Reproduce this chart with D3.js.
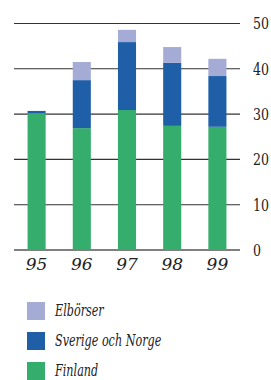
<!DOCTYPE html>
<html>
<head>
<meta charset="utf-8">
<script src="https://cdn.jsdelivr.net/npm/d3@7/dist/d3.min.js"></script>
<style>
  html, body { margin: 0; padding: 0; background: #fff; }
  svg { display: block; }
  text { font-family: "DejaVu Serif", serif; fill: #222; }
  .tick-label { font-size: 17px; }
  .year-label { font-style: italic; font-size: 17px; }
  .legend-label { font-style: italic; font-size: 16px; }
</style>
</head>
<body>
<svg id="chart"></svg>
<script>
// data
const years = ["95", "96", "97", "98", "99"];
const finland = [30.2, 26.9, 30.9, 27.4, 27.2];
const sverigeNorge = [0.5, 10.6, 15.0, 13.9, 11.2];
const elborser = [0.0, 4.0, 2.7, 3.5, 3.8];
const yTicks = [0, 10, 20, 30, 40, 50];

const seriesNames = ["Finland", "Sverige och Norge", "Elbörser"];
const seriesColors = ["#35ad6d", "#1e5fa8", "#a4acd6"];

const width = 271, height = 380;
const svg = d3.select("#chart").attr("width", width).attr("height", height);

const x = d3.scaleBand().domain(years).range([14, 240]).paddingInner(0.6).paddingOuter(0.3);
const y = d3.scaleLinear().domain([0, 50]).range([250, 23.5]);

// stack the rows
const rows = years.map((yr, i) => ({
  year: yr,
  "Finland": finland[i],
  "Sverige och Norge": sverigeNorge[i],
  "Elbörser": elborser[i]
}));
const stacked = d3.stack().keys(seriesNames)(rows);

// gridlines
svg.append("g")
  .selectAll("line")
  .data(yTicks)
  .join("line")
  .attr("x1", 14)
  .attr("x2", 240)
  .attr("y1", d => y(d))
  .attr("y2", d => y(d))
  .attr("stroke", d => d === 0 ? "#000" : "#333")
  .attr("stroke-width", 1.1);

// bars
svg.append("g")
  .selectAll("g")
  .data(stacked)
  .join("g")
  .attr("fill", (d, i) => seriesColors[i])
  .selectAll("rect")
  .data(d => d)
  .join("rect")
  .attr("x", d => x(d.data.year))
  .attr("width", x.bandwidth())
  .attr("y", d => y(d[1]))
  .attr("height", d => Math.max(0, y(d[0]) - y(d[1])));

// right axis labels (condensed look)
svg.append("g")
  .selectAll("text")
  .data(yTicks)
  .join("text")
  .attr("class", "tick-label")
  .attr("transform", d => `translate(253,${y(d)}) scale(0.74,1)`)
  .attr("dy", "0.35em")
  .text(d => d);

// year labels
svg.append("g")
  .selectAll("text")
  .data(years)
  .join("text")
  .attr("class", "year-label")
  .attr("x", d => x(d) + x.bandwidth() / 2)
  .attr("y", 270)
  .attr("text-anchor", "middle")
  .text(d => d);

// legend, top to bottom: Elbörser, Sverige och Norge, Finland
const legendOrder = [2, 1, 0];
const legend = svg.append("g")
  .selectAll("g")
  .data(legendOrder)
  .join("g")
  .attr("transform", (d, i) => `translate(27,${302 + i * 30})`);

legend.append("rect")
  .attr("width", 18)
  .attr("height", 18)
  .attr("fill", d => seriesColors[d]);

legend.append("text")
  .attr("class", "legend-label")
  .attr("transform", "translate(28,14) scale(0.7,1)")
  .text(d => seriesNames[d]);
</script>
</body>
</html>
